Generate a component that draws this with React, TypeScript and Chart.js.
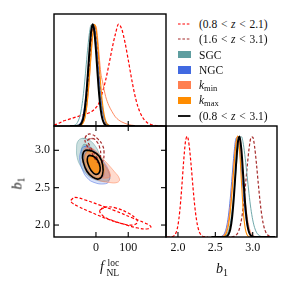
import React, { useEffect, useRef } from "react";
import { Chart, registerables } from "chart.js";

Chart.register(...registerables);

const FONT = "'Liberation Serif', 'Times New Roman', serif";

// ---------- axes ----------
const fnlMin = -130;
const fnlMax = 217;
const b1Min = 1.84;
const b1Max = 3.325;
const densityMax = 1.1;
const fnlTicks = [0, 100];
const b1Ticks = [2.0, 2.5, 3.0];

// ---------- series ----------
const seriesLabels = ["(0.8 < z < 2.1)", "(1.6 < z < 3.1)", "SGC", "NGC", "k_min", "k_max", "(0.8 < z < 3.1)"];
const RED = "#ff0000";
const MAROON = "#a52a2a";
const TEAL = "#5f9ea0";
const BLUE = "#4169e1";
const SALMON = "#ff7f50";
const ORANGE = "#ff8c00";
const BLACK = "#000000";

// ---------- 1D posteriors in f_NL ----------
const fnlX = [-80, -70, -60, -50, -45, -40, -35, -30, -25, -20, -15, -10, -5, 0, 5, 10, 15, 20, 25, 30, 35, 40, 50, 60, 70, 80, 100, 120];
const fnlBlack = [0, 0, 0.001, 0.009, 0.027, 0.07, 0.157, 0.306, 0.514, 0.744, 0.929, 1, 0.929, 0.744, 0.514, 0.306, 0.157, 0.07, 0.027, 0.009, 0.003, 0.001, 0, 0, 0, 0, 0, 0];
const fnlMaroon = [0, 0, 0.001, 0.007, 0.02, 0.052, 0.117, 0.23, 0.398, 0.607, 0.813, 0.96, 0.997, 0.912, 0.734, 0.52, 0.325, 0.178, 0.086, 0.037, 0.014, 0.005, 0, 0, 0, 0, 0, 0];
const fnlTeal = [0, 0.004, 0.022, 0.094, 0.17, 0.283, 0.433, 0.607, 0.779, 0.919, 0.993, 0.985, 0.895, 0.746, 0.571, 0.4, 0.258, 0.152, 0.082, 0.041, 0.019, 0.008, 0.001, 0, 0, 0, 0, 0];
const fnlBlue = [0, 0, 0.002, 0.02, 0.048, 0.103, 0.198, 0.341, 0.526, 0.726, 0.897, 0.991, 0.98, 0.868, 0.687, 0.487, 0.309, 0.175, 0.089, 0.04, 0.016, 0.006, 0, 0, 0, 0, 0, 0];
const fnlSalmon = [0, 0, 0, 0.004, 0.011, 0.031, 0.073, 0.155, 0.291, 0.478, 0.693, 0.882, 0.99, 0.98, 0.868, 0.687, 0.52, 0.44, 0.36, 0.29, 0.24, 0.2, 0.14, 0.09, 0.06, 0.04, 0.015, 0.004];
const fnlOrange = [0, 0, 0, 0.003, 0.01, 0.029, 0.071, 0.156, 0.298, 0.495, 0.718, 0.906, 0.997, 0.96, 0.813, 0.607, 0.398, 0.23, 0.117, 0.052, 0.02, 0.007, 0, 0, 0, 0, 0, 0];
const fnlWideX = [-130, -120, -110, -100, -90, -80, -70, -60, -50, -40, -30, -20, -10, 0, 10, 20, 30, 40, 50, 60, 70, 80, 90, 100, 110, 120, 130, 140, 150, 160, 170, 180, 190, 200, 210];
const fnlRed = [0.01, 0.02, 0.035, 0.05, 0.06, 0.07, 0.08, 0.09, 0.1, 0.11, 0.12, 0.13, 0.15, 0.18, 0.23, 0.33, 0.45, 0.6, 0.76, 0.9, 1.0, 0.95, 0.82, 0.65, 0.47, 0.31, 0.19, 0.11, 0.06, 0.03, 0.015, 0.007, 0.003, 0.001, 0];

// ---------- 1D posteriors in b1 ----------
const b1X = [2.45, 2.475, 2.5, 2.525, 2.55, 2.575, 2.6, 2.625, 2.65, 2.675, 2.7, 2.725, 2.75, 2.775, 2.8, 2.825, 2.85, 2.875, 2.9, 2.925, 2.95, 2.975, 3.0, 3.025, 3.05, 3.075, 3.1, 3.125, 3.15, 3.175, 3.2, 3.225, 3.25, 3.275, 3.3];
const b1Black = [0, 0, 0, 0, 0, 0, 0.0002, 0.001, 0.006, 0.024, 0.077, 0.2, 0.418, 0.697, 0.931, 0.996, 0.852, 0.583, 0.32, 0.141, 0.05, 0.014, 0.003, 0.001, 0, 0, 0, 0, 0, 0, 0, 0, 0, 0, 0];
const b1Teal = [0, 0, 0, 0, 0.0002, 0.001, 0.003, 0.009, 0.025, 0.062, 0.135, 0.259, 0.438, 0.65, 0.849, 0.977, 0.993, 0.919, 0.779, 0.607, 0.433, 0.283, 0.17, 0.094, 0.047, 0.022, 0.009, 0.004, 0.001, 0, 0, 0, 0, 0, 0];
const b1Blue = [0, 0, 0, 0.0002, 0.001, 0.004, 0.014, 0.04, 0.098, 0.209, 0.383, 0.607, 0.827, 0.974, 0.988, 0.865, 0.653, 0.425, 0.239, 0.116, 0.048, 0.017, 0.005, 0.0015, 0.0004, 0, 0, 0, 0, 0, 0, 0, 0, 0, 0];
const b1Orange = [0, 0, 0, 0, 0.0002, 0.001, 0.004, 0.014, 0.044, 0.114, 0.249, 0.458, 0.707, 0.917, 1, 0.857, 0.539, 0.249, 0.085, 0.021, 0.004, 0.0005, 0, 0, 0, 0, 0, 0, 0, 0, 0, 0, 0, 0, 0];
const b1Salmon = [0, 0, 0, 0.0001, 0.0006, 0.0025, 0.009, 0.027, 0.07, 0.157, 0.306, 0.514, 0.744, 0.929, 1, 0.938, 0.775, 0.563, 0.36, 0.203, 0.101, 0.044, 0.017, 0.006, 0.002, 0.0005, 0, 0, 0, 0, 0, 0, 0, 0, 0];
const b1Maroon = [0, 0, 0, 0, 0, 0, 0, 0, 0, 0, 0.0006, 0.002, 0.006, 0.016, 0.04, 0.089, 0.175, 0.309, 0.487, 0.687, 0.868, 0.98, 0.991, 0.897, 0.726, 0.526, 0.341, 0.198, 0.103, 0.048, 0.02, 0.007, 0.0025, 0.0008, 0.0002];
const b1LowX = [1.85, 1.875, 1.9, 1.925, 1.95, 1.975, 2.0, 2.025, 2.05, 2.075, 2.1, 2.125, 2.15, 2.175, 2.2, 2.225, 2.25, 2.275, 2.3, 2.325, 2.35, 2.375, 2.4];
const b1Red = [0, 0.0001, 0.0008, 0.0035, 0.014, 0.044, 0.117, 0.262, 0.483, 0.74, 0.942, 0.997, 0.907, 0.721, 0.501, 0.304, 0.161, 0.074, 0.03, 0.011, 0.003, 0.001, 0.0002];

// ---------- 2D contours (f_NL, b1) ----------
const redOuter = [[-78, 2.33], [-66, 2.37], [-30, 2.33], [10, 2.27], [60, 2.19], [110, 2.1], [150, 2.03], [170, 1.98], [162, 1.95], [130, 1.96], [80, 2.02], [30, 2.09], [-20, 2.18], [-55, 2.25], [-75, 2.3]];
const redInner = [[12, 2.2], [30, 2.24], [60, 2.23], [100, 2.16], [125, 2.08], [128, 2.03], [112, 2.0], [80, 2.02], [45, 2.07], [20, 2.13]];
const maroonOuter = [[-34, 3.16], [-27, 3.21], [-11, 3.21], [4, 3.16], [20, 3.07], [25, 2.96], [20, 2.85], [9, 2.83], [-1, 2.87], [-16, 2.99], [-30, 3.08]];
const maroonInner = [[-25, 3.14], [-11, 3.16], [2, 3.12], [12, 3.03], [14, 2.92], [7, 2.89], [-4, 2.95], [-18, 3.05]];
const sgcOuter = [[-42, 3.16], [-22, 3.14], [-1, 3.05], [14, 2.92], [30, 2.785], [43, 2.65], [40, 2.6], [25, 2.585], [-1, 2.605], [-27, 2.67], [-47, 2.785], [-58, 2.9], [-60, 3.03], [-56, 3.12]];
const sgcInner = [[-39, 3.075], [-22, 3.06], [-1, 2.96], [14, 2.83], [20, 2.72], [4, 2.695], [-16, 2.74], [-35, 2.83], [-45, 2.94]];
const ngcOuter = [[-37, 3.05], [-16, 3.03], [14, 2.9], [40, 2.72], [40, 2.585], [25, 2.55], [-6, 2.57], [-27, 2.63], [-42, 2.74], [-50, 2.87], [-47, 2.985]];
const ngcInner = [[-32, 2.96], [-11, 2.94], [14, 2.81], [25, 2.67], [14, 2.63], [-8, 2.66], [-27, 2.74], [-35, 2.85]];
const kminOuter = [[-32, 3.03], [-6, 3.01], [25, 2.87], [56, 2.72], [73, 2.615], [66, 2.57], [40, 2.57], [4, 2.605], [-22, 2.67], [-37, 2.785], [-42, 2.92]];
const kminInner = [[-27, 2.96], [-6, 2.94], [25, 2.81], [45, 2.67], [35, 2.63], [9, 2.65], [-16, 2.74], [-30, 2.85]];
const kmaxOuter = [[-27, 2.98], [-6, 2.97], [14, 2.89], [24, 2.78], [22, 2.67], [9, 2.635], [-11, 2.665], [-27, 2.76], [-35, 2.87]];
const kmaxInner = [[-18, 2.91], [-6, 2.905], [7, 2.85], [12, 2.76], [4, 2.7], [-8, 2.715], [-19, 2.785], [-24, 2.85]];
const fullOuter = [[-32, 3.0], [-12, 2.99], [10, 2.92], [21, 2.8], [20, 2.67], [8, 2.615], [-10, 2.64], [-28, 2.72], [-39, 2.84], [-41, 2.94]];
const fullInner = [[-22, 2.93], [-8, 2.92], [6, 2.86], [13, 2.77], [10, 2.7], [-2, 2.68], [-15, 2.73], [-24, 2.81], [-27, 2.88]];

// ---------- helpers ----------
const DASH = [3, 2];

function curve(xs: number[], ys: number[], color: string, width: number, dash: number[], order: number) {
  return {
    data: xs.map((x, i) => ({ x, y: ys[i] })),
    showLine: true,
    borderColor: color,
    borderWidth: width,
    borderDash: dash,
    pointRadius: 0,
    fill: false,
    cubicInterpolationMode: "monotone",
    order,
  };
}

function contour(pts: number[][], stroke: string, width: number, dash: number[], fillColor: string | null, order: number) {
  const closed = [...pts, pts[0], pts[1]];
  return {
    data: closed.map(([x, y]) => ({ x, y })),
    showLine: true,
    tension: 0.45,
    borderColor: stroke,
    borderWidth: width,
    borderDash: dash,
    fill: fillColor ? "shape" : false,
    backgroundColor: fillColor || "transparent",
    pointRadius: 0,
    order,
  };
}

const framePlugin = {
  id: "cornerFrame",
  afterDraw(chart: any, _args: any, opts: any) {
    const { ctx, chartArea: a, scales } = chart;
    ctx.save();
    ctx.strokeStyle = "#000";
    ctx.lineWidth = 1.1;
    const tl = 5;
    const sides: string[] = opts.sides || [];
    sides.forEach((side) => {
      const horiz = side === "top" || side === "bottom";
      const scale = horiz ? scales.x : scales.y;
      const vals: number[] = horiz ? opts.xTicks : opts.yTicks;
      vals.forEach((v) => {
        const p = scale.getPixelForValue(v);
        ctx.beginPath();
        if (side === "bottom") { ctx.moveTo(p, a.bottom); ctx.lineTo(p, a.bottom - tl); }
        if (side === "top") { ctx.moveTo(p, a.top); ctx.lineTo(p, a.top + tl); }
        if (side === "left") { ctx.moveTo(a.left, p); ctx.lineTo(a.left + tl, p); }
        if (side === "right") { ctx.moveTo(a.right, p); ctx.lineTo(a.right - tl, p); }
        ctx.stroke();
      });
    });
    ctx.lineWidth = 1.4;
    ctx.strokeRect(a.left, a.top, a.right - a.left, a.bottom - a.top);
    ctx.restore();
  },
};

const tickFont = { family: FONT, size: 12 };

function baseOptions(padding: any, scales: any, frame: any) {
  return {
    responsive: false,
    animation: false,
    devicePixelRatio: 1,
    events: [],
    layout: { padding, autoPadding: false },
    plugins: { legend: { display: false }, tooltip: { enabled: false }, cornerFrame: frame },
    scales,
  };
}

function fixedTicks(vals: number[]) {
  return (s: any) => { s.ticks = vals.map((v) => ({ value: v })); };
}

function fixedSize(dim: "width" | "height", size: number) {
  return (s: any) => {
    s[dim] = size;
    s.paddingTop = 0;
    s.paddingBottom = 0;
    s.paddingLeft = 0;
    s.paddingRight = 0;
  };
}

function configTop() {
  const datasets = [
    curve(fnlWideX, fnlRed, RED, 1.2, DASH, 7),
    curve(fnlX, fnlMaroon, MAROON, 1.2, DASH, 6),
    curve(fnlX, fnlTeal, TEAL, 0.9, [], 5),
    curve(fnlX, fnlBlue, BLUE, 0.9, [], 4),
    curve(fnlX, fnlSalmon, SALMON, 0.9, [], 3),
    curve(fnlX, fnlOrange, ORANGE, 1.1, [], 2),
    curve(fnlX, fnlBlack, BLACK, 2, [], 1),
  ];
  return {
    type: "scatter",
    data: { datasets },
    options: baseOptions(
      { left: 54, top: 14, right: 6, bottom: 6 },
      {
        x: { type: "linear", display: false, min: fnlMin, max: fnlMax, afterBuildTicks: fixedTicks(fnlTicks) },
        y: { type: "linear", display: false, min: 0, max: densityMax },
      },
      { sides: ["bottom"], xTicks: fnlTicks, yTicks: [] }
    ),
    plugins: [framePlugin],
  };
}

function configMid() {
  const datasets = [
    contour(redOuter, RED, 1.2, DASH, null, 20),
    contour(redInner, RED, 1.2, DASH, null, 19),
    contour(sgcOuter, "rgba(95,158,160,0.7)", 0.7, [], "rgba(95,158,160,0.32)", 18),
    contour(sgcInner, "rgba(95,158,160,0.7)", 0.7, [], "rgba(95,158,160,0.35)", 17),
    contour(ngcOuter, "rgba(65,105,225,0.7)", 0.7, [], "rgba(65,105,225,0.2)", 16),
    contour(ngcInner, "rgba(65,105,225,0.7)", 0.7, [], "rgba(65,105,225,0.25)", 15),
    contour(kminOuter, "rgba(255,127,80,0.7)", 0.7, [], "rgba(255,127,80,0.28)", 14),
    contour(kminInner, "rgba(255,127,80,0.7)", 0.7, [], "rgba(255,127,80,0.35)", 13),
    contour(kmaxOuter, "rgba(255,140,0,0.8)", 0.7, [], "rgba(255,180,100,0.5)", 12),
    contour(kmaxInner, "rgba(255,140,0,0.9)", 0.7, [], "rgba(255,140,0,0.75)", 11),
    contour(maroonOuter, MAROON, 1.2, DASH, null, 10),
    contour(maroonInner, MAROON, 1.2, DASH, null, 9),
    contour(fullOuter, BLACK, 1.6, [], null, 8),
    contour(fullInner, BLACK, 1.6, [], null, 7),
  ];
  return {
    type: "scatter",
    data: { datasets },
    options: baseOptions(
      { left: 0, top: 6, right: 6, bottom: 0 },
      {
        x: {
          type: "linear", min: fnlMin, max: fnlMax,
          afterBuildTicks: fixedTicks(fnlTicks),
          afterFit: fixedSize("height", 54),
          grid: { display: false, drawTicks: false },
          border: { display: false },
          ticks: { padding: 4, color: "#111", font: tickFont, maxRotation: 0, autoSkip: false, callback: (v: any) => String(v) },
        },
        y: {
          type: "linear", min: b1Min, max: b1Max,
          afterBuildTicks: fixedTicks(b1Ticks),
          afterFit: fixedSize("width", 54),
          grid: { display: false, drawTicks: false },
          border: { display: false },
          ticks: { padding: 4, color: "#111", font: tickFont, autoSkip: false, callback: (v: any) => Number(v).toFixed(1) },
        },
      },
      { sides: ["left", "right", "top", "bottom"], xTicks: fnlTicks, yTicks: b1Ticks }
    ),
    plugins: [framePlugin],
  };
}

function configRight() {
  const datasets = [
    curve(b1LowX, b1Red, RED, 1.2, DASH, 7),
    curve(b1X, b1Maroon, MAROON, 1.2, DASH, 6),
    curve(b1X, b1Teal, TEAL, 0.9, [], 5),
    curve(b1X, b1Blue, BLUE, 0.9, [], 4),
    curve(b1X, b1Salmon, SALMON, 0.9, [], 3),
    curve(b1X, b1Orange, ORANGE, 1.1, [], 2),
    curve(b1X, b1Black, BLACK, 2, [], 1),
  ];
  return {
    type: "scatter",
    data: { datasets },
    options: baseOptions(
      { left: 6, top: 6, right: 14, bottom: 0 },
      {
        x: {
          type: "linear", min: b1Min, max: b1Max,
          afterBuildTicks: fixedTicks(b1Ticks),
          afterFit: fixedSize("height", 54),
          grid: { display: false, drawTicks: false },
          border: { display: false },
          ticks: { padding: 4, color: "#111", font: tickFont, maxRotation: 0, autoSkip: false, callback: (v: any) => Number(v).toFixed(1) },
        },
        y: { type: "linear", display: false, min: 0, max: densityMax },
      },
      { sides: ["bottom"], xTicks: b1Ticks, yTicks: [] }
    ),
    plugins: [framePlugin],
  };
}

function ChartCanvas(props: { left: number; top: number; width: number; height: number; make: () => any }) {
  const ref = useRef<HTMLCanvasElement | null>(null);
  useEffect(() => {
    const chart = new Chart(ref.current as HTMLCanvasElement, props.make());
    return () => chart.destroy();
  }, []);
  return (
    <canvas
      ref={ref}
      width={props.width}
      height={props.height}
      style={{ position: "absolute", left: props.left, top: props.top, width: props.width, height: props.height }}
    />
  );
}

// ---------- legend ----------
const legendKinds = ["dash", "dash", "patch", "patch", "patch", "patch", "line"];
const legendColors = [RED, MAROON, TEAL, BLUE, SALMON, ORANGE, BLACK];

function MathLabel({ text }: { text: string }) {
  if (text.startsWith("k_")) {
    return (
      <span>
        <i>k</i>
        <span style={{ fontSize: 8.5, position: "relative", top: 2.5 }}>{text.slice(2)}</span>
      </span>
    );
  }
  if (text.includes(" z ")) {
    const [a, b] = text.split(" z ");
    return (
      <span style={{ wordSpacing: "0.8px" }}>
        {a} <i>z</i> {b}
      </span>
    );
  }
  return <span>{text}</span>;
}

function Marker({ kind, color }: { kind: string; color: string }) {
  if (kind === "patch") {
    return <div style={{ width: 12.5, height: 7.5, background: color }} />;
  }
  return (
    <svg width="13" height="8" style={{ display: "block" }}>
      <line
        x1="0" y1="4" x2="12.5" y2="4"
        stroke={color}
        strokeWidth={kind === "line" ? 1.8 : 1.1}
        strokeDasharray={kind === "dash" ? "2.6 1.8" : undefined}
      />
    </svg>
  );
}

function Legend() {
  return (
    <>
      {seriesLabels.map((lab, i) => (
        <div
          key={i}
          style={{
            position: "absolute", left: 178, top: 24 + 15.25 * i - 7, height: 14,
            display: "flex", alignItems: "center", fontFamily: FONT, fontSize: 11.5,
            lineHeight: "14px", color: "#111", whiteSpace: "nowrap",
          }}
        >
          <div style={{ width: 12.5, display: "flex", alignItems: "center" }}>
            <Marker kind={legendKinds[i]} color={legendColors[i]} />
          </div>
          <div style={{ marginLeft: 8.5 }}>
            <MathLabel text={lab} />
          </div>
        </div>
      ))}
    </>
  );
}

function B1Label({ style }: { style: any }) {
  return (
    <div style={{ position: "absolute", fontFamily: FONT, fontSize: 14, lineHeight: "14px", color: "#111", whiteSpace: "nowrap", ...style }}>
      <i>b</i>
      <span style={{ fontSize: 10, position: "relative", top: 3 }}>1</span>
    </div>
  );
}

function FnlLabel() {
  return (
    <div style={{ position: "absolute", left: 100, top: 260, fontFamily: FONT, fontSize: 14, lineHeight: "14px", color: "#111", whiteSpace: "nowrap" }}>
      <i>f</i>
      <span style={{ position: "absolute", left: 7.5, top: -4, fontSize: 9.5 }}>loc</span>
      <span style={{ position: "absolute", left: 6.5, top: 6, fontSize: 9.5 }}>NL</span>
    </div>
  );
}

export default function App() {
  return (
    <div style={{ position: "fixed", left: 0, top: 0, width: 291, height: 291, background: "#fff", overflow: "hidden" }}>
      <ChartCanvas left={0} top={0} width={172} height={132} make={configTop} />
      <ChartCanvas left={0} top={120} width={172} height={171} make={configMid} />
      <ChartCanvas left={160} top={120} width={131} height={171} make={configRight} />
      <Legend />
      <FnlLabel />
      <B1Label style={{ left: 216, top: 262 }} />
      <B1Label style={{ left: 12, top: 176, transform: "rotate(-90deg)", transformOrigin: "50% 50%" }} />
    </div>
  );
}
